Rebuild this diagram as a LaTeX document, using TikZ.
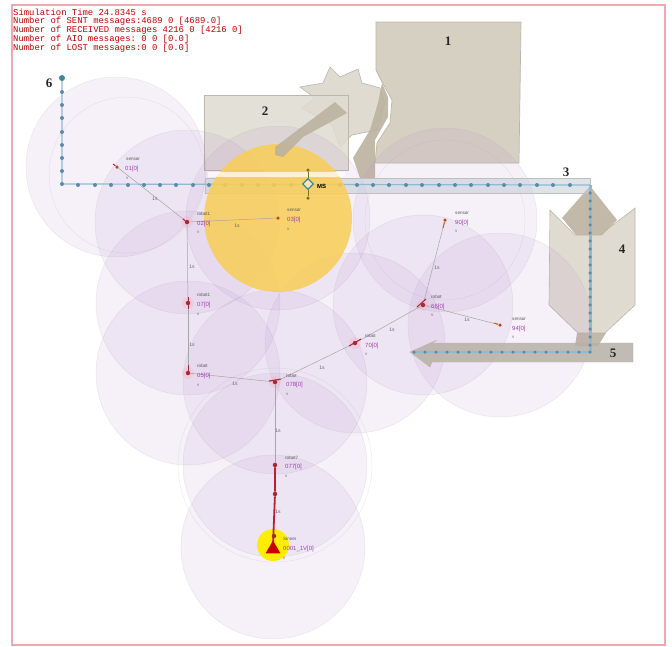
\documentclass[tikz,border=0pt]{standalone}
\usepackage{fontspec}
\setmainfont{Liberation Serif}
\setsansfont{Liberation Sans}
\setmonofont{Liberation Mono}
\usetikzlibrary{shapes.geometric}
\definecolor{wall}{HTML}{D6D0C3}
\definecolor{wallline}{HTML}{BDB7AB}
\definecolor{wallpale}{HTML}{DFDBD1}
\definecolor{beam}{HTML}{BDB2A0}
\definecolor{range}{HTML}{B07CC8}
\definecolor{routeblue}{HTML}{8FBAD2}
\definecolor{routedot}{HTML}{5A8CA8}
\definecolor{labelpurple}{HTML}{A040B0}
\definecolor{nodered}{HTML}{A82838}
\definecolor{framepink}{HTML}{F0A8B0}
\definecolor{amber}{HTML}{F8CE5A}
\definecolor{corridor}{HTML}{C4CCD6}
\tikzset{
  x=1pt,y=-1pt,
  rangedisc/.style={fill=range,fill opacity=.10,draw=black!30,draw opacity=.25,line width=.5pt},
  rangering/.style={draw=black!30,draw opacity=.25,line width=.5pt},
  wallshape/.style={fill=wall,draw=wallline,line width=.7pt},
  wallpaleshape/.style={fill=wallpale,draw=wallline,line width=.6pt},
  beamshape/.style={fill=beam,draw=none,fill opacity=.9},
  wsn/.style={circle,fill=nodered,inner sep=0pt,minimum size=4.5pt},
  wsnsensor/.style={circle,fill=nodered!70!orange,inner sep=0pt,minimum size=3.5pt},
  glow/.style={fill=red!40,fill opacity=.2},
  link/.style={draw=black!35,line width=.5pt},
  hotlink/.style={draw=nodered!85!red,line width=1.8pt},
  namelabel/.style={font=\sffamily\fontsize{4.6}{5}\selectfont,text=black!65,anchor=west,inner sep=0pt},
  idlabel/.style={font=\sffamily\fontsize{6}{6}\selectfont,text=labelpurple,anchor=west,inner sep=0pt},
  vlabel/.style={font=\sffamily\fontsize{4.5}{5}\selectfont,text=black!55,anchor=west,inner sep=0pt},
  edgelabel/.style={font=\sffamily\fontsize{5}{5}\selectfont,text=black!60,inner sep=0pt},
  numlabel/.style={font=\bfseries\fontsize{13}{13}\selectfont,text=black!85,inner sep=0pt},
  statline/.style={font=\ttfamily\fontsize{8.9}{9}\selectfont,text=red!75!black,anchor=west,inner sep=0pt},
  dot/.style={circle,fill=routedot,inner sep=0pt,minimum size=4pt},
}
\begin{document}
\begin{tikzpicture}
\useasboundingbox (0,0) rectangle (672,646);
\fill[white] (0,0) rectangle (672,646);

% obstacles
\fill[wallshape] (376,22) -- (521,22) -- (519,163) -- (375,163) -- (377,143) -- (390,123) -- (392,100) -- (382,82) -- (376,70) -- cycle;
\fill[wallpaleshape] (300,87) -- (323,83) -- (330,67) -- (340,77) -- (358,69) -- (362,83) -- (380,88) -- (385,103) -- (377,130) -- (352,135) -- (340,147) -- (332,125) -- (302,108) -- (315,98) -- cycle;
\draw[wallpaleshape,fill opacity=.85] (204,95) rectangle (348,170);
\fill[beamshape] (382,83) -- (388,97) -- (388,117) -- (375,140) -- (375,178) -- (360,178) -- (353,158) -- (370,130) -- (378,103) -- cycle;
\fill[wallpaleshape] (550,210) -- (575,235) -- (600,235) -- (635,208) -- (635,305) -- (605,333) -- (578,333) -- (549,305) -- cycle;
\fill[beamshape] (590,186) -- (617,220) -- (602,235) -- (576,235) -- (562,218) -- cycle;
\fill[beamshape] (577,333) -- (606,333) -- (598,346) -- (575,346) -- cycle;

% range discs
\foreach \cx/\cy/\r in {116/167/90, 187/222/92, 278/218/92, 188/303/92, 188/373/92, 275/382/92, 275/465/92, 273/547/92, 355/343/90, 423/305/90, 445/220/92, 500/325/92}{
  \draw[rangedisc] (\cx,\cy) circle[radius=\r];
}
\foreach \cx/\cy/\r in {127/175/78, 275/465/97, 445/220/80}{
  \draw[rangering] (\cx,\cy) circle[radius=\r];
}

% corridors
\fill[corridor,fill opacity=.55,draw=black!25] (205,178) rectangle (590,193);
\fill[wall!85!black,draw=wallline,fill opacity=.85] (633,343) -- (633,362) -- (432,362) -- (430,367) -- (410,352) -- (437,340) -- (432,343) -- cycle;

% route of the mobile sink
\coordinate (start) at (62,78);
\coordinate (bendA) at (62,184);
\coordinate (bendB) at (590,185);
\coordinate (bendC) at (590,352);
\coordinate (finish) at (414,352);
\draw[routeblue,line width=1.2pt] (start) -- (bendA) -- (bendB);
\draw[routeblue,line width=3pt] (bendB) -- (bendC);
\draw[routeblue,line width=1.6pt] (bendC) -- (finish);
\foreach \y in {92,105,118,132,145,158,171,184}{\node[dot] at (62,\y) {};}
\foreach \x in {78,95,111,128,144,160,176,193,209,225,242,258,274,291,324,340,357,373,389,406,422,439,455,471,488,504,520,537,553,570}{\node[dot] at (\x,185) {};}
\foreach \y in {193,201,...,345}{\node[dot,minimum size=3.5pt] at (590,\y) {};}
\foreach \x in {414,425,436,447,458,469,480,491,502,513,524,535,546,557,568,579,590}{\node[dot,minimum size=3.5pt] at (\x,352) {};}
\node[dot,minimum size=6pt,fill=routedot!70!teal] at (start) {};

% event disc and beam
\fill[amber,fill opacity=.88] (278,218) circle[radius=74];
\fill[white,fill opacity=.7] (208,172) rectangle (345,177);
\fill[beamshape] (275,147) -- (335,102) -- (347,113) -- (303,137) -- (283,157) -- (275,155) -- cycle;

% mobile node
\node[diamond,draw=routedot!70!teal,fill=white,fill opacity=.5,draw opacity=1,line width=1.2pt,inner sep=0pt,minimum size=11pt] (ms) at (308,184) {};
\node[dot,minimum size=3.5pt,fill=olive!80!black] (msTop) at (308,170) {};
\node[dot,minimum size=3.5pt,fill=olive!80!black] (msBottom) at (308,198) {};
\draw[olive!80!black,line width=.6pt] (msTop) -- (ms) -- (msBottom);
\node[font=\sffamily\bfseries\fontsize{6}{6}\selectfont,anchor=west,inner sep=0pt] at (317,186) {MS};

% glow round the robots
\foreach \cx/\cy in {187/222, 188/303, 188/373, 275/382, 355/343, 423/305}{
  \fill[glow] (\cx,\cy) circle[radius=6];
}

% wireless nodes
\node[wsnsensor] (s1) at (117,167) {};
\node[wsn] (r2) at (187,222) {};
\node[wsnsensor] (s3) at (278,218) {};
\node[wsn] (r4) at (188,303) {};
\node[wsn] (r5) at (188,373) {};
\node[wsn] (r6) at (275,382) {};
\node[wsn] (r7) at (275,465) {};
\coordinate (sinkc) at (273,545);
\node[wsn] (r8) at (355,343) {};
\node[wsn] (r9) at (423,305) {};
\node[wsnsensor] (s10) at (445,220) {};
\node[wsnsensor] (s11) at (500,325) {};

% sink halo (below its link)
\fill[yellow!95!orange] (273,545) circle[radius=16];
\node[wsn] (r7b) at (275,494) {};

% links
\draw[link] (s1) -- (r2);
\draw[link] (r2) -- (s3);
\draw[link] (r2) -- (r4);
\draw[link] (r4) -- (r5);
\draw[link] (r5) -- (r6);
\draw[link] (r6) -- (r7);
\draw[link] (r6) -- (r8);
\draw[link] (r8) -- (r9);
\draw[link] (r9) -- (s10);
\draw[link] (r9) -- (s11);
\draw[hotlink] (r7) -- (r7b) -- (sinkc);
\node[regular polygon,regular polygon sides=3,fill=red!80!black,inner sep=0pt,minimum size=17pt] (sink) at (273,549) {};
\node[wsn] at (274,536) {};

% short thick stubs at the nodes
\draw[nodered,line width=1pt] (113,164) -- (s1);
\draw[nodered,line width=1pt] (183,219) -- (r2);
\draw[nodered,line width=1pt] (188,297) -- (188,309);
\draw[nodered,line width=1pt] (188,365) -- (r5);
\draw[nodered,line width=1pt] (269,381) -- (281,379);
\draw[nodered,line width=1pt] (349,346) -- (361,339);
\draw[nodered,line width=1pt] (417,307) -- (426,299);
\draw[orange!80!black,line width=1pt] (443,228) -- (s10);
\draw[orange!80!black,line width=1pt] (494,323) -- (s11);

% edge labels
\foreach \x/\y in {155/199, 237/226, 192/267, 192/345, 235/384, 322/368, 278/431, 278/512, 392/330, 437/268, 467/320}{
  \node[edgelabel] at (\x,\y) {1s};
}

% node labels
\node[namelabel] at (126,159) {sensor};
\node[idlabel] at (125,169) {01[0]};
\node[vlabel] at (126,178) {v};
\node[namelabel] at (197,214) {robot1};
\node[idlabel] at (197,224) {02[0]};
\node[vlabel] at (197,232) {v};
\node[namelabel] at (287,210) {sensor};
\node[idlabel] at (287,220) {03[0]};
\node[vlabel] at (287,229) {v};
\node[namelabel] at (197,295) {robot1};
\node[idlabel] at (197,305) {07[0]};
\node[vlabel] at (197,314) {v};
\node[namelabel] at (197,366) {robot};
\node[idlabel] at (197,376) {05[0]};
\node[vlabel] at (197,385) {v};
\node[namelabel] at (286,376) {robot};
\node[idlabel] at (286,385) {078[0]};
\node[vlabel] at (286,394) {v};
\node[namelabel] at (285,458) {robot7};
\node[idlabel] at (285,467) {077[0]};
\node[vlabel] at (285,476) {v};
\node[namelabel] at (283,539) {Sinner};
\node[idlabel] at (283,549) {0001\_1V[0]};
\node[vlabel] at (283,558) {v};
\node[namelabel] at (365,336) {robot};
\node[idlabel] at (365,346) {70[0]};
\node[vlabel] at (365,354) {v};
\node[namelabel] at (431,297) {robot};
\node[idlabel] at (431,307) {66[0]};
\node[vlabel] at (431,315) {v};
\node[namelabel] at (455,213) {sensor};
\node[idlabel] at (455,223) {90[0]};
\node[vlabel] at (455,231) {v};
\node[namelabel] at (512,319) {sensor};
\node[idlabel] at (512,329) {94[0]};
\node[vlabel] at (512,337) {v};

% numbered obstacles and route ends
\node[numlabel] at (448,41) {1};
\node[numlabel] at (265,111) {2};
\node[numlabel] at (566,172) {3};
\node[numlabel] at (622,249) {4};
\node[numlabel] at (613,353) {5};
\node[numlabel] at (49,83) {6};

% frame and statistics
\draw[framepink,line width=1.6pt] (12,5) rectangle (665,645);
\node[statline] at (13,12) {Simulation Time  24.8345 s};
\node[statline] at (13,21) {Number of SENT messages:4689 0 [4689.0]};
\node[statline] at (13,30) {Number of RECEIVED messages 4216 0 [4216 0]};
\node[statline] at (13,39) {Number of AIO messages: 0 0 [0.0]};
\node[statline] at (13,48) {Number of LOST messages:0 0 [0.0]};
\end{tikzpicture}
\end{document}
